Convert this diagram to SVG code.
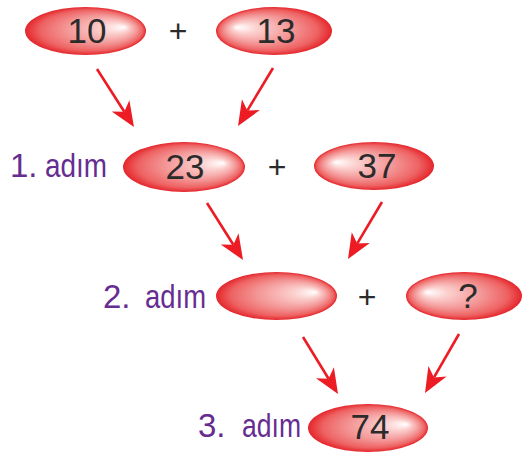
<svg xmlns="http://www.w3.org/2000/svg" width="523" height="454" viewBox="0 0 523 454">
<defs>
<radialGradient id="gR" cx="0.5" cy="0.5" r="0.5" fx="0.82" fy="0.42">
<stop offset="0" stop-color="#ffffff"/>
<stop offset="0.22" stop-color="#fbd0ce"/>
<stop offset="0.6" stop-color="#f39393"/>
<stop offset="0.85" stop-color="#ee6262"/>
<stop offset="1" stop-color="#e4262c"/>
</radialGradient>
<radialGradient id="gL" cx="0.5" cy="0.5" r="0.5" fx="0.18" fy="0.42">
<stop offset="0" stop-color="#ffffff"/>
<stop offset="0.22" stop-color="#fbd0ce"/>
<stop offset="0.6" stop-color="#f39393"/>
<stop offset="0.85" stop-color="#ee6262"/>
<stop offset="1" stop-color="#e4262c"/>
</radialGradient>
<marker id="ah" markerUnits="userSpaceOnUse" orient="auto" refX="0" refY="0" markerWidth="40" markerHeight="40" overflow="visible">
<path d="M18,0 L-7,-10.5 L0,0 L-7,10.5 Z" fill="#ed1c24"/>
</marker>
</defs>
<style>
.num{font-family:"Liberation Sans",Arial,sans-serif;font-size:35px;fill:#2b2b2b;text-anchor:middle}
.plus{font-family:"Liberation Sans",Arial,sans-serif;font-size:32px;fill:#2b2b2b;text-anchor:middle}
.lbl{font-family:"Liberation Sans",Arial,sans-serif;font-size:33px;fill:#662d91}
.arr{stroke:#ed1c24;stroke-width:2.6;fill:none;marker-end:url(#ah)}
</style>
<rect width="523" height="454" fill="#ffffff"/>
<g id="n10"><ellipse cx="85.5" cy="31" rx="60.5" ry="24" fill="url(#gR)"/><text class="num" x="87" y="43">10</text></g>
<g id="plus1"><text class="plus" x="178" y="42">+</text></g>
<g id="n13"><ellipse cx="274" cy="31" rx="58" ry="24" fill="url(#gL)"/><text class="num" x="276" y="43">13</text></g>
<g id="lbl1"><text class="lbl" y="177"><tspan x="10">1.</tspan><tspan x="45" textLength="62" lengthAdjust="spacingAndGlyphs">adım</tspan></text></g>
<g id="n23"><ellipse cx="184" cy="167" rx="61" ry="25" fill="url(#gR)"/><text class="num" x="185" y="179">23</text></g>
<g id="plus2"><text class="plus" x="277" y="178">+</text></g>
<g id="n37"><ellipse cx="374" cy="166" rx="60" ry="24" fill="url(#gL)"/><text class="num" x="377" y="178">37</text></g>
<g id="lbl2"><text class="lbl" y="308"><tspan x="103">2.</tspan><tspan x="145" textLength="61" lengthAdjust="spacingAndGlyphs">adım</tspan></text></g>
<g id="nblank"><ellipse cx="276.5" cy="296" rx="60.5" ry="24" fill="url(#gR)"/></g>
<g id="plus3"><text class="plus" x="367" y="308">+</text></g>
<g id="nq"><ellipse cx="464" cy="296" rx="58" ry="24" fill="url(#gL)"/><text class="num" x="468" y="308">?</text></g>
<g id="lbl3"><text class="lbl" y="437"><tspan x="198">3.</tspan><tspan x="242" textLength="59" lengthAdjust="spacingAndGlyphs">adım</tspan></text></g>
<g id="n74"><ellipse cx="368" cy="428" rx="60" ry="24" fill="url(#gR)"/><text class="num" x="370" y="439">74</text></g>
<g id="connectors">
<line class="arr" x1="97" y1="69" x2="124.3" y2="111.8"/>
<line class="arr" x1="273" y1="68" x2="247.3" y2="110.6"/>
<line class="arr" x1="207" y1="203" x2="233.4" y2="244.8"/>
<line class="arr" x1="382" y1="202" x2="357.2" y2="243.6"/>
<line class="arr" x1="303" y1="337" x2="328.6" y2="378.7"/>
<line class="arr" x1="459" y1="334" x2="434" y2="377.4"/>
</g>
</svg>
